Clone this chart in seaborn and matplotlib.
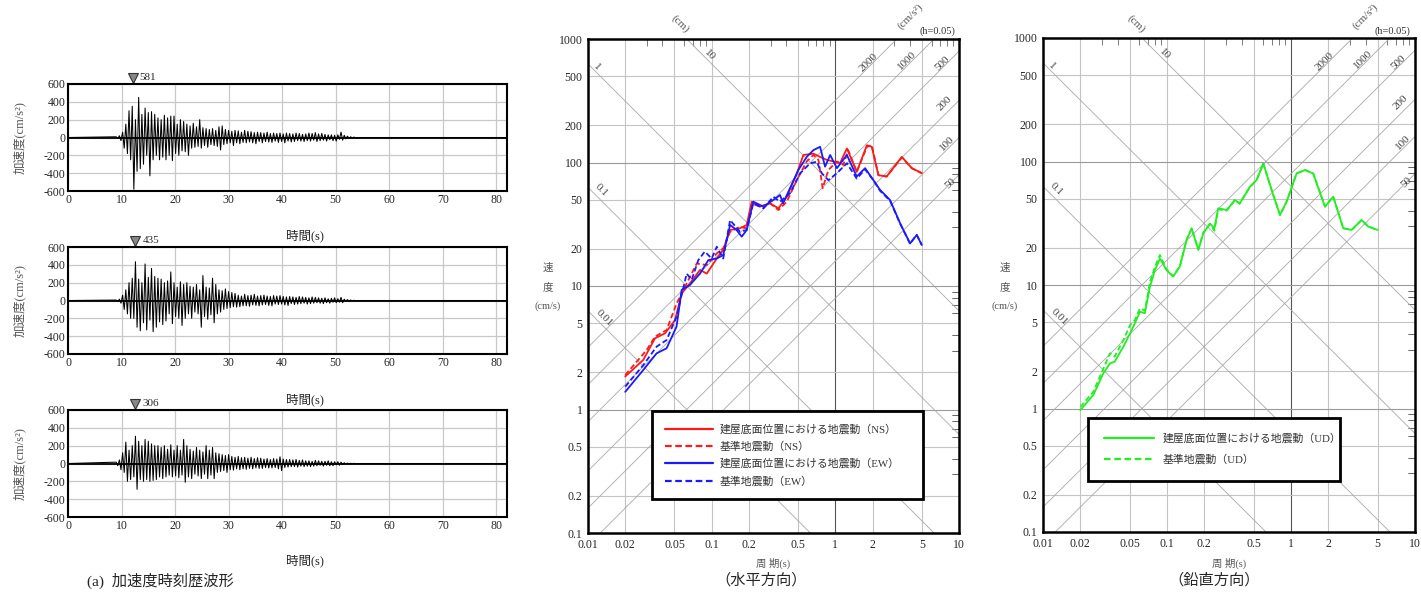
import numpy as np
import matplotlib
matplotlib.use('Agg')
import matplotlib.pyplot as plt
from matplotlib.lines import Line2D
from matplotlib.ticker import FixedLocator, NullFormatter
import seaborn as sns

sns.set_style('white')
plt.rcParams['font.family'] = ['Liberation Serif', 'Noto Sans CJK JP']
plt.rcParams['axes.unicode_minus'] = False


#%% DATA

# acceleration time histories (cm/s2), samples every wave_dt seconds from wave_t0
wave_t0 = 9.0
wave_dt = 0.3
wave1 = [8, -12, 20, -35, 60, -120, 150, -180, 300, -250,
         350, -581, 200, -380, 450, -350, 260, -300, 330, -200,
         280, -430, 290, -250, 260, -200, 220, -250, 200, -220,
         250, -250, 220, -200, 240, -260, 240, -180, 150, -200,
         200, -150, 180, -160, 150, -200, 130, -120, 160, -110,
         120, -100, 200, -120, 110, -90, 100, -110, 90, -80,
         100, -90, 80, -100, 120, -140, 130, -80, 90, -70,
         80, -60, 70, -90, 80, -60, 75, -70, 60, -55,
         80, -60, 70, -50, 65, -60, 55, -70, 60, -45,
         55, -60, 50, -45, 60, -50, 45, -55, 50, -40,
         45, -55, 50, -45, 40, -60, 50, -40, 45, -50,
         40, -45, 50, -35, 45, -40, 35, -45, 40, -35,
         50, -40, 45, -30, 55, -45, 40, -35, 45, -30,
         35, -40, 30, -25, 30, -35, 25, -40, 30, -20,
         60, -30, 25, -15, 15, -10, 8, -6, 5, -3, 0]
wave2 = [5, -10, 15, -30, 60, -100, 120, -150, 200, -200,
         250, -200, 435, -300, 240, -340, 200, -250, 410, -330,
         260, -220, 360, -350, 270, -300, 250, -240, 240, -270,
         200, -230, 220, -150, 320, -260, 200, -180, 150, -200,
         210, -280, 180, -200, 200, -150, 160, -200, 150, -130,
         180, -150, 120, -300, 280, -180, 150, -210, 140, -160,
         250, -250, 180, -150, 120, -130, 110, -100, 130, -90,
         100, -80, 90, -70, 80, -75, 60, -70, 50, -60,
         70, -60, 55, -65, 60, -50, 70, -55, 50, -60,
         55, -50, 60, -45, 50, -55, 45, -60, 55, -40,
         50, -45, 55, -40, 45, -50, 40, -55, 45, -35,
         40, -45, 35, -40, 45, -35, 40, -30, 35, -40,
         30, -35, 40, -30, 35, -25, 30, -30, 25, -35,
         30, -25, 20, -30, 25, -20, 30, -25, 20, -20,
         35, -25, 15, -10, 10, -8, 6, -5, 3, -2, 0]
wave3 = [15, -25, 40, -70, 120, -100, 240, -200, 150, -180,
         200, -150, 306, -290, 250, -180, 200, -200, 270, -180,
         250, -200, 220, -190, 200, -180, 200, -150, 180, -170,
         200, -150, 160, -130, 210, -150, 150, -140, 200, -160,
         150, -130, 270, -210, 200, -150, 160, -170, 140, -120,
         180, -140, 150, -170, 130, -120, 200, -170, 150, -130,
         180, -170, 120, -100, 110, -90, 100, -80, 90, -100,
         100, -70, 80, -75, 70, -60, 80, -70, 65, -60,
         70, -65, 60, -55, 70, -60, 55, -50, 65, -55,
         60, -55, 50, -45, 55, -50, 45, -50, 55, -45,
         50, -60, 75, -80, 50, -45, 45, -40, 45, -35,
         40, -35, 45, -40, 35, -30, 40, -35, 30, -30,
         30, -35, 25, -30, 35, -25, 30, -20, 25, -30,
         25, -20, 30, -25, 20, -25, 20, -15, 20, -20,
         15, -10, 8, -6, 5, -4, 3, -2, 2, -1, 0]
wave_peaks = ['581', '435', '306']
wave_peak_times = [12.1, 12.6, 12.6]

# velocity response spectra, h=0.05 (period s, velocity cm/s)
ns_bldg_T = [0.020, 0.028, 0.0348, 0.042, 0.0506, 0.0572, 0.0668, 0.0805, 0.0912, 0.110,
             0.124, 0.141, 0.169, 0.192, 0.211, 0.246, 0.297, 0.347, 0.405, 0.488,
             0.552, 0.665, 0.753, 0.853, 0.966, 1.09, 1.24, 1.49, 1.80, 1.97,
             2.23, 2.60, 3.45, 4.15, 5.0]
ns_bldg_sv = [1.85, 2.52, 3.77, 4.14, 5.3, 8.7, 10.5, 13.5, 12.6, 16.7,
              19.6, 28.4, 29.3, 31.2, 48.2, 43.9, 46.7, 42.5, 52.8, 81.6,
              115, 118, 111, 105, 102, 98.5, 130, 84, 138, 134,
              79, 77, 111, 90, 82]
ns_base_T = [0.020, 0.0298, 0.0348, 0.0432, 0.052, 0.0572, 0.0757, 0.0912, 0.110, 0.124,
             0.141, 0.169, 0.192, 0.211, 0.246, 0.297, 0.347, 0.405, 0.488, 0.587,
             0.665, 0.73, 0.79, 0.879, 1.03, 1.16, 1.27, 1.49, 1.80, 1.97,
             2.23, 2.60, 3.45, 4.15, 5.0]
ns_base_sv = [1.9, 3.03, 3.89, 4.4, 7.2, 8.7, 15.2, 14.8, 18.4, 20.2,
              27.5, 30.2, 29.3, 46.7, 43.9, 46.7, 41.2, 48.2, 72, 102,
              115, 105, 62, 87, 102, 95.5, 126, 84, 134, 138,
              79, 77, 110, 90, 82]
ew_bldg_T = [0.020, 0.028, 0.0359, 0.0432, 0.052, 0.0572, 0.0668, 0.0805, 0.094, 0.110,
             0.124, 0.141, 0.159, 0.175, 0.192, 0.217, 0.262, 0.315, 0.357, 0.378,
             0.417, 0.503, 0.587, 0.665, 0.753, 0.826, 0.908, 1.03, 1.24, 1.49,
             1.74, 2.03, 2.30, 2.77, 3.34, 4.02, 4.55, 5.0]
ew_bldg_sv = [1.39, 2.09, 2.85, 3.13, 4.69, 9.3, 10.2, 12.6, 16.2, 16.7,
              17.8, 31.2, 28.4, 25.1, 28.4, 48.2, 43.9, 49.7, 54.5, 46.7,
              58, 87, 111, 126, 134, 92.5, 115, 90, 115, 77,
              90, 72, 60, 49.7, 32.2, 22.1, 25.9, 21.5]
ew_base_T = [0.020, 0.028, 0.0359, 0.0432, 0.052, 0.0628, 0.0689, 0.078, 0.088, 0.100,
             0.110, 0.124, 0.141, 0.169, 0.192, 0.217, 0.262, 0.315, 0.357, 0.43,
             0.519, 0.625, 0.708, 0.776, 0.879, 1.03, 1.24, 1.49, 1.74, 2.03,
             2.30, 2.77, 3.34, 4.02, 4.55, 5.0]
ew_base_sv = [1.53, 2.29, 3.23, 3.65, 5.65, 12.6, 11.2, 16.2, 19.0, 16.7,
              20.8, 16.7, 34.2, 27.5, 28.4, 46.7, 42.5, 52.8, 48.2, 56.3,
              81.6, 98.5, 101.6, 82, 72, 82, 98.5, 74, 88, 72,
              59, 49, 32, 22, 26, 21.5]
ud_T = [0.020, 0.0255, 0.0307, 0.0347, 0.0378, 0.0445, 0.0504, 0.0551, 0.0605, 0.0663,
        0.0729, 0.080, 0.0877, 0.099, 0.112, 0.127, 0.144, 0.158, 0.179, 0.196,
        0.222, 0.241, 0.259, 0.303, 0.353, 0.386, 0.467, 0.528, 0.598, 0.698,
        0.815, 0.922, 1.11, 1.30, 1.51, 1.88, 2.19, 2.64, 3.08, 3.71,
        4.2, 5.0]
ud_bldg_sv = [0.97, 1.29, 1.93, 2.32, 2.39, 3.17, 4.06, 4.9, 6.08, 5.9,
              9.7, 13.2, 16.4, 13.2, 11.7, 14.1, 23.1, 28.8, 19.2, 26.2,
              31.5, 28.8, 41.8, 40.5, 48.8, 45.8, 62.5, 70.8, 96.6, 58.7,
              36.9, 47.3, 80.2, 85.3, 80, 43.1, 51.9, 28.8, 27.9, 33.6,
              29.7, 27.9]
ud_base_sv = [1.03, 1.37, 2.11, 2.8, 2.63, 3.59, 4.75, 5.2, 6.47, 6.2,
              10.6, 14.1, 17.5, 13.4, 11.8, 14.2, 23.5, 28.5, 19.5, 26.5,
              31.0, 27.5, 41.0, 40.0, 48.5, 45.5, 62.5, 70.8, 96.0, 58.7,
              36.9, 47.3, 80.2, 85.3, 80, 43.1, 51.9, 28.8, 27.9, 33.6,
              29.7, 27.9]

# tripartite guide lines
disp_lines = [0.01, 0.1, 1, 10]                 # cm
acc_lines = [50, 100, 200, 500, 1000, 2000]     # cm/s2
disp_labels = ['0.01', '0.1', '1', '10']
acc_labels = ['50', '100', '200', '500', '1000', '2000']

xtick_vals = [0.01, 0.02, 0.05, 0.1, 0.2, 0.5, 1, 2, 5, 10]
xtick_labels = ['0.01', '0.02', '0.05', '0.1', '0.2', '0.5', '1', '2', '5', '10']
ytick_vals = [0.1, 0.2, 0.5, 1, 2, 5, 10, 20, 50, 100, 200, 500, 1000]
ytick_labels = ['0.1', '0.2', '0.5', '1', '2', '5', '10', '20', '50', '100', '200', '500', '1000']

legend_h = ['建屋底面位置における地震動（NS）', '基準地震動（NS）',
            '建屋底面位置における地震動（EW）', '基準地震動（EW）']
legend_v = ['建屋底面位置における地震動（UD）', '基準地震動（UD）']


#%% FIGURE

W, H = 1421, 593
fig = plt.figure(figsize=(W / 100, H / 100), dpi=100)

def px_axes(x0, y0, x1, y1):
    return fig.add_axes([x0 / W, 1 - y1 / H, (x1 - x0) / W, (y1 - y0) / H])

def ftext(x, y, s, **kw):
    fig.text(x / W, 1 - y / H, s, **kw)

gray_txt = '#555555'

#%% waveform panels
wave_boxes = [(84, 191), (247, 354), (410, 517)]
xlab_y = [236, 400, 561]
for i, wave in enumerate([wave1, wave2, wave3]):
    y0, y1 = wave_boxes[i]
    ax = px_axes(68, y0, 507, y1)
    t = wave_t0 + wave_dt * np.arange(len(wave))
    t = np.concatenate([[0], t, [82]])
    a = np.concatenate([[0], wave, [0]])
    ax.axhline(0, color='black', lw=1.3, zorder=2)
    sns.lineplot(x=t, y=a, ax=ax, color='black', lw=0.75,
                 estimator=None, sort=False, zorder=3)
    ax.set_xlim(0, 82)
    ax.set_ylim(-600, 600)
    ax.set_xticks(np.arange(0, 81, 10))
    ax.set_yticks(np.arange(-600, 601, 200))
    ax.grid(True, color='#c8c8c8', lw=0.9)
    ax.set_axisbelow(True)
    ax.tick_params(length=0, labelsize=8.5, pad=2)
    for sp in ax.spines.values():
        sp.set_linewidth(1.5)
        sp.set_color('black')
    ax.set_xlabel('')
    ax.set_ylabel('')
    ax.plot([wave_peak_times[i]], [668], marker='v', ms=7.5, mfc='#888888',
            mec='#333333', mew=0.8, clip_on=False, ls='none')
    ax.text(wave_peak_times[i] + 1.3, 668, wave_peaks[i], fontsize=8,
            va='center', ha='left')
    ftext(20, (y0 + y1) / 2, '加速度(cm/s²)', rotation=90, ha='center',
          va='center', fontsize=9, color=gray_txt)
    ftext(305, xlab_y[i], '時間(s)', ha='center', va='center', fontsize=9)

ftext(87, 581, '(a)  加速度時刻歴波形', ha='left', va='center', fontsize=11)


#%% response spectrum panels
def tripartite(ax):
    ax.set_xscale('log')
    ax.set_yscale('log')
    ax.set_xlim(0.01, 10)
    ax.set_ylim(0.1, 1000)
    ax.xaxis.set_major_locator(FixedLocator(xtick_vals))
    ax.xaxis.set_ticklabels(xtick_labels)
    ax.yaxis.set_major_locator(FixedLocator(ytick_vals))
    ax.yaxis.set_ticklabels(ytick_labels)
    minors = [k * 10.0 ** e for e in range(-2, 3) for k in (3, 4, 6, 7, 8, 9)]
    ax.xaxis.set_minor_locator(FixedLocator([m for m in minors if m < 10]))
    ax.yaxis.set_minor_locator(FixedLocator([m / 10 for m in minors] + [m * 10 for m in minors if m < 10]))
    ax.xaxis.set_minor_formatter(NullFormatter())
    ax.yaxis.set_minor_formatter(NullFormatter())
    ax.tick_params(which='major', length=0, labelsize=8.5, pad=4)
    ax.tick_params(which='minor', direction='in', length=5, width=0.6,
                   color='#666666', top=True, right=True)
    for v in xtick_vals[1:-1]:
        ax.axvline(v, color='#555555' if v == 1 else '#c4c4c4', lw=0.8, zorder=1)
    for v in ytick_vals[1:-1]:
        ax.axhline(v, color='#9a9a9a' if v in (1, 10, 100) else '#c4c4c4', lw=0.8, zorder=1)
    T_end = np.array([0.01, 10.0])
    for d in disp_lines:
        ax.plot(T_end, 2 * np.pi * d / T_end, color='#a8a8a8', lw=0.6, zorder=1)
    for a in acc_lines:
        ax.plot(T_end, a * T_end / (2 * np.pi), color='#a8a8a8', lw=0.6, zorder=1)
    lab_kw = dict(fontsize=8, color='#444444', ha='center', va='center', zorder=2)
    for lab, (tx, sy) in zip(disp_labels, [(0.0135, 5.5), (0.0128, 60), (0.0118, 590), (0.096, 740)]):
        ax.text(tx, sy, lab, rotation=-45, **lab_kw)
    for lab, (tx, sy) in zip(acc_labels, [(8.5, 68), (8.0, 143), (7.6, 303), (7.3, 640), (3.8, 676), (1.85, 650)]):
        ax.text(tx, sy, lab, rotation=45, **lab_kw)
    for sp in ax.spines.values():
        sp.set_linewidth(1.8)
        sp.set_color('black')
    ax.set_xlabel('')
    ax.set_ylabel('')

red, blue, green = '#ff1a1a', '#1a1aff', '#22ee22'
dash = (0, (3, 1.6))

# horizontal
axh = px_axes(588, 39, 959, 533)
tripartite(axh)
sns.lineplot(x=ns_bldg_T, y=ns_bldg_sv, ax=axh, color=red, lw=1.3, estimator=None, zorder=4)
sns.lineplot(x=ns_base_T, y=ns_base_sv, ax=axh, color=red, lw=1.3, estimator=None, zorder=4, dashes=False, linestyle=dash)
sns.lineplot(x=ew_bldg_T, y=ew_bldg_sv, ax=axh, color=blue, lw=1.3, estimator=None, zorder=4)
sns.lineplot(x=ew_base_T, y=ew_base_sv, ax=axh, color=blue, lw=1.3, estimator=None, zorder=4, dashes=False, linestyle=dash)
handles = [Line2D([], [], color=red, lw=1.6),
           Line2D([], [], color=red, lw=1.6, ls=dash),
           Line2D([], [], color=blue, lw=1.6),
           Line2D([], [], color=blue, lw=1.6, ls=dash)]
leg = axh.legend(handles, legend_h, loc='upper left', mode='expand',
                 bbox_to_anchor=(0.1725, 0.0648, 0.730, 0.182),
                 frameon=True, fancybox=False, edgecolor='black', framealpha=1,
                 handlelength=4.4, handletextpad=0.6, borderpad=1.2,
                 labelspacing=0.62, fontsize=7.8, borderaxespad=0)
leg.get_frame().set_linewidth(2)
leg.set_zorder(5)
for txt in leg.get_texts():
    txt.set_color('#333333')

# vertical
axv = px_axes(1043, 38, 1415, 532)
tripartite(axv)
sns.lineplot(x=ud_T, y=ud_bldg_sv, ax=axv, color=green, lw=1.3, estimator=None, zorder=4)
sns.lineplot(x=ud_T, y=ud_base_sv, ax=axv, color=green, lw=1.3, estimator=None, zorder=4, dashes=False, linestyle=dash)
handles = [Line2D([], [], color=green, lw=1.6),
           Line2D([], [], color=green, lw=1.6, ls=dash)]
leg = axv.legend(handles, legend_v, loc='upper left', mode='expand',
                 bbox_to_anchor=(0.121, 0.103, 0.677, 0.128),
                 frameon=True, fancybox=False, edgecolor='black', framealpha=1,
                 handlelength=4.6, handletextpad=0.8, borderpad=1.45,
                 labelspacing=0.95, fontsize=7.8, borderaxespad=0)
leg.get_frame().set_linewidth(2)
leg.set_zorder(5)
for txt in leg.get_texts():
    txt.set_color('#333333')

# annotations around the spectrum panels
for x_ax, x_cm, x_acc, x_h in [(548, 680, 910, 937), (1005, 1136, 1365, 1392)]:
    ftext(x_ax, 268, '速', ha='center', va='center', fontsize=7.5, color=gray_txt)
    ftext(x_ax, 287, '度', ha='center', va='center', fontsize=7.5, color=gray_txt)
    ftext(x_ax, 306, '(cm/s)', ha='center', va='center', fontsize=7.5, color=gray_txt)
    ftext(x_cm, 24, '(cm)', rotation=-45, ha='center', va='center', fontsize=8, color=gray_txt)
    ftext(x_acc, 16, '(cm/s²)', rotation=45, ha='center', va='center', fontsize=8, color=gray_txt)
    ftext(x_h, 31, '(h=0.05)', ha='center', va='center', fontsize=7.5, color='#333333')

ftext(773, 563, '周 期(s)', ha='center', va='center', fontsize=7.5, color=gray_txt)
ftext(1229, 563, '周 期(s)', ha='center', va='center', fontsize=7.5, color=gray_txt)
ftext(761, 580, '（水平方向）', ha='center', va='center', fontsize=11)
ftext(1214, 580, '（鉛直方向）', ha='center', va='center', fontsize=11)

fig.savefig('out.png', dpi=100)
